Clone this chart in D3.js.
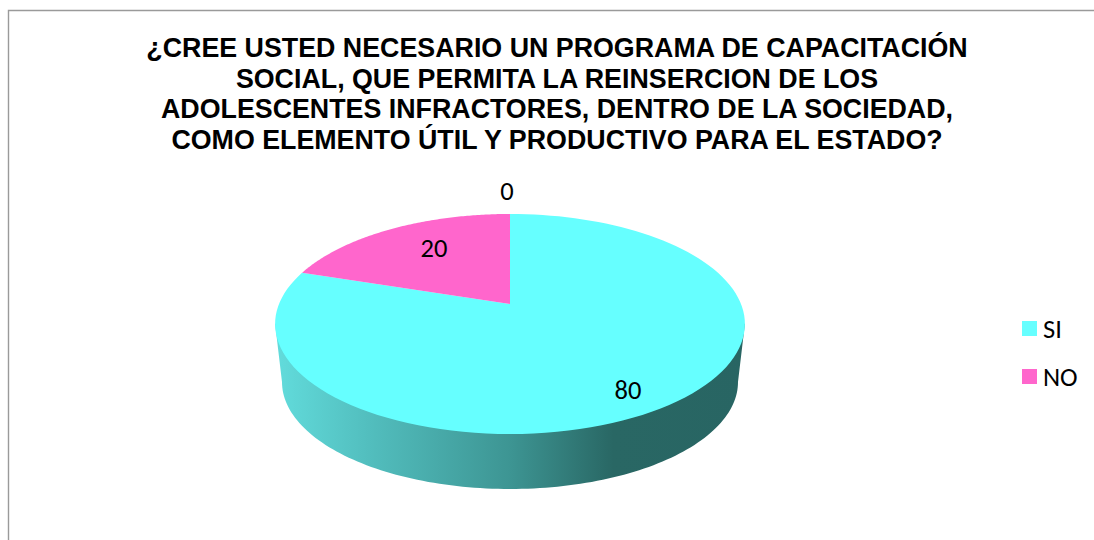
<!DOCTYPE html>
<html><head><meta charset="utf-8">
<script src="https://cdn.jsdelivr.net/npm/d3@7/dist/d3.min.js"></script>
<style>html,body{margin:0;padding:0;background:#fff}svg{display:block}</style>
</head><body><svg id="c" width="1094" height="540"></svg>
<script>
const categories = ["SI", "NO", ""];
const values = [80, 20, 0];
const sliceColors = ["#66FFFF", "#FF66CC", "#AAAAAA"];
const legendEntries = ["SI", "NO"];
const titleLines = [
  "¿CREE USTED NECESARIO UN PROGRAMA DE CAPACITACIÓN",
  "SOCIAL, QUE PERMITA LA REINSERCION DE LOS",
  "ADOLESCENTES INFRACTORES, DENTRO DE LA SOCIEDAD,",
  "COMO ELEMENTO ÚTIL Y PRODUCTIVO PARA EL ESTADO?"
];

const svg = d3.select("#c");
const W = 1094, H = 540;
const cx = 510, apexY = 304, persp = 0.1818, scaleX = 231, scaleY = 106.4;

// perspective projection of a unit disc (angle measured clockwise from the back)
const project = (a, r = 1) => {
  const u = r * Math.sin(a), v = r * Math.cos(a), k = 1 + persp * v;
  return [cx + scaleX * u / k, apexY - scaleY * v / k];
};
const arcPoints = (a0, a1) => d3.range(0, 121).map(i => project(a0 + (a1 - a0) * i / 120));
const line = d3.line();

// frame
svg.append("path").attr("d", `M8.5,${H} V10.5 H${W}`).attr("fill", "none")
  .attr("stroke", "#9a9a9a").attr("stroke-width", 1.4);

// gradient for the side wall
const defs = svg.append("defs");
const grad = defs.append("linearGradient").attr("id", "wall").attr("gradientUnits", "userSpaceOnUse")
  .attr("x1", 275).attr("x2", 745).attr("y1", 0).attr("y2", 0);
[[0, "#62DCDC"], [0.2, "#52BEBE"], [0.5, "#3D9593"], [0.72, "#296764"], [1, "#286563"]]
  .forEach(([o, c]) => grad.append("stop").attr("offset", o).attr("stop-color", c));

// side wall
const wallRx = 228, wallRy = 107, wallCy = 382;
const lower = d3.range(0, 121).map(i => {
  const t = Math.PI * i / 120;
  return [cx - wallRx * Math.cos(t), wallCy + wallRy * Math.sin(t)];
});
const wallPts = [project(-Math.PI / 2 - 0.18), ...lower, project(Math.PI / 2 + 0.18)];
svg.append("path").attr("d", line(wallPts) + "Z").attr("fill", "url(#wall)");

// slices: start at the top going clockwise
const pie = d3.pie().sort(null).value(d => d);
const arcs = pie(values);
arcs.forEach((s, i) => {
  if (s.endAngle - s.startAngle <= 0) return;
  const pts = [project(0, 0), ...arcPoints(s.startAngle, s.endAngle)];
  svg.append("path").attr("d", line(pts) + "Z").attr("fill", sliceColors[i]);
});

// title
const title = svg.append("g").attr("font-family", "'Liberation Sans',Arial,sans-serif")
  .attr("font-weight", 700).attr("font-size", 26.8).attr("fill", "#000").attr("text-anchor", "middle");
const titleY = d3.scalePoint().domain(d3.range(titleLines.length)).range([57, 148.5]);
titleLines.forEach((t, i) => title.append("text").attr("x", 557).attr("y", titleY(i)).text(t));

// data labels
const labelFont = "Carlito,Lato,'Open Sans',sans-serif";
const labelPos = [[628, 399], [434, 257], [507, 200]];
svg.append("g").attr("font-family", labelFont).attr("font-size", 26.5).attr("fill", "#000").attr("text-anchor", "middle")
  .selectAll("text").data(values).join("text")
  .attr("x", (d, i) => labelPos[i][0]).attr("y", (d, i) => labelPos[i][1]).text(d => d);

// legend
const legendY = d3.scalePoint().domain(legendEntries).range([321, 369]);
const lg = svg.append("g");
legendEntries.forEach((name, i) => {
  lg.append("rect").attr("x", 1022).attr("y", legendY(name)).attr("width", 15).attr("height", 15).attr("fill", sliceColors[i]);
  lg.append("text").attr("x", 1043).attr("y", legendY(name) + 17).attr("font-family", labelFont)
    .attr("font-size", 26.5).attr("fill", "#000").text(name);
});
</script></body></html>
